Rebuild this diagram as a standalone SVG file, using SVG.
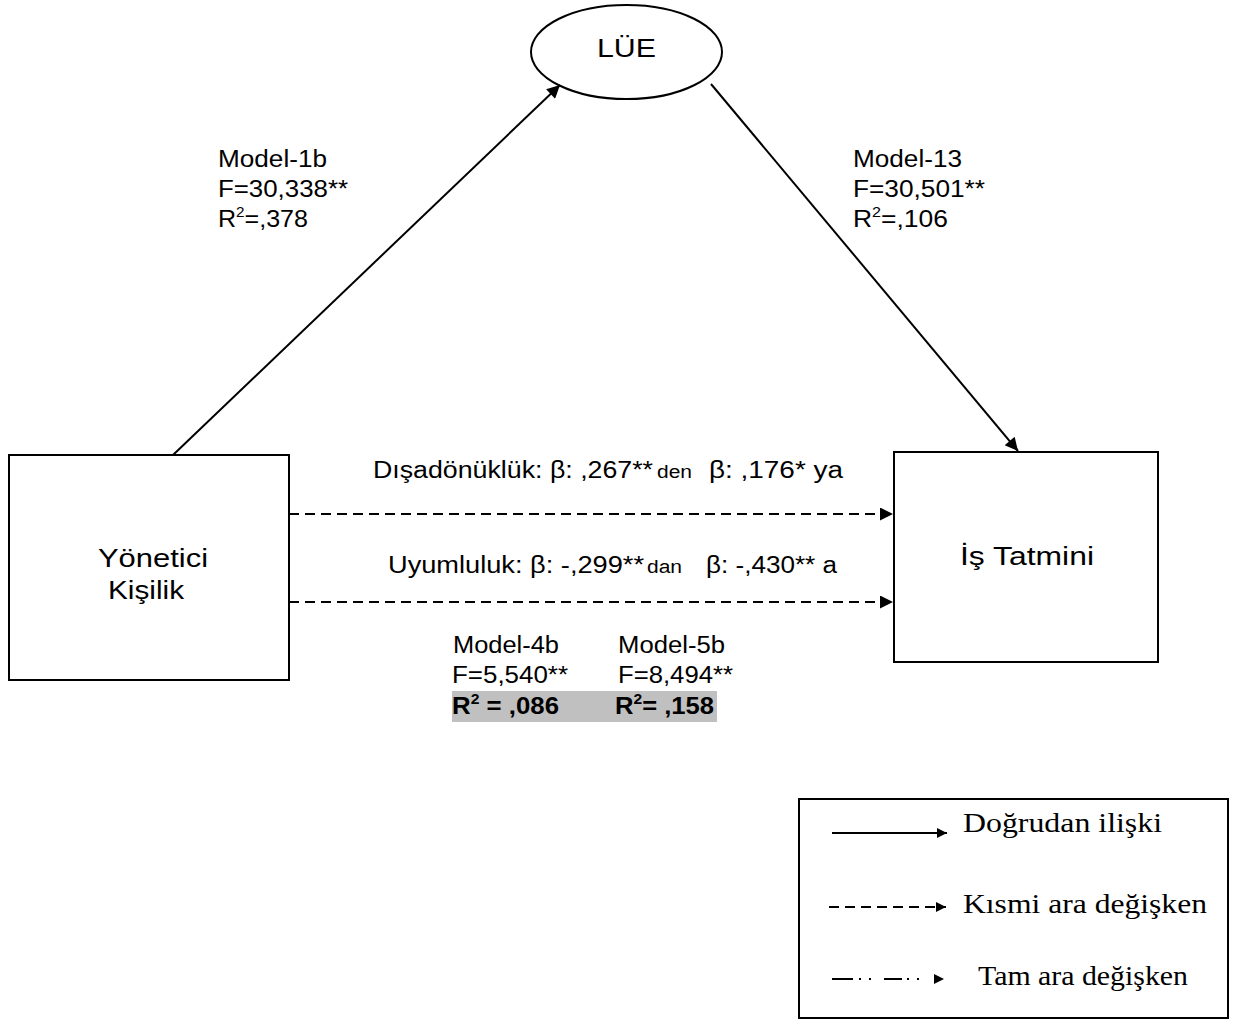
<svg xmlns="http://www.w3.org/2000/svg" width="1248" height="1021" viewBox="0 0 1248 1021">
  <style>
    .node { fill: #fff; stroke: #000; stroke-width: 2; }
    .lbl { font-family: "Liberation Sans", Arial, sans-serif; fill: #000; }
    .big { font-size: 26px; }
    .mid { font-size: 23px; }
    .small { font-size: 18px; }
    .sup { font-size: 14px; }
    .leg { font-family: "Liberation Serif", "Times New Roman", serif; font-size: 27.5px; fill: #000; }
    .solid { stroke: #000; stroke-width: 2; fill: none; }
    .dash { stroke: #000; stroke-width: 2; fill: none; stroke-dasharray: 10 6; }
    .dashdot { stroke: #000; stroke-width: 2; fill: none; }
  </style>
  <defs>
    <marker id="arrow" viewBox="0 0 10 10" refX="10" refY="5" markerWidth="16" markerHeight="13" markerUnits="userSpaceOnUse" orient="auto">
      <path d="M0,0 L10,5 L0,10 Z" fill="#000"/>
    </marker>
    <marker id="arrow-sm" viewBox="0 0 10 10" refX="10" refY="5" markerWidth="13" markerHeight="10" markerUnits="userSpaceOnUse" orient="auto">
      <path d="M0,0 L10,5 L0,10 Z" fill="#000"/>
    </marker>
  </defs>

  <rect width="1248" height="1021" fill="#fff"/>

  <!-- Nodes -->
  <g id="node-lue">
    <ellipse class="node" cx="626.5" cy="52" rx="95.5" ry="47"/>
    <text class="lbl big" x="597" y="57" textLength="59" lengthAdjust="spacingAndGlyphs">LÜE</text>
  </g>
  <g id="node-yonetici">
    <rect class="node" x="9" y="455" width="280" height="225"/>
    <text class="lbl big" x="98" y="567" textLength="110" lengthAdjust="spacingAndGlyphs">Yönetici</text>
    <text class="lbl big" x="108" y="599" textLength="76" lengthAdjust="spacingAndGlyphs">Kişilik</text>
  </g>
  <g id="node-is-tatmini">
    <rect class="node" x="894" y="452" width="264" height="210"/>
    <text class="lbl big" x="960" y="565" textLength="134" lengthAdjust="spacingAndGlyphs">İş Tatmini</text>
  </g>

  <!-- Connectors -->
  <g id="connectors">
    <line class="solid" x1="173" y1="455" x2="560" y2="85" marker-end="url(#arrow)"/>
    <line class="solid" x1="711" y1="84" x2="1018" y2="451" marker-end="url(#arrow)"/>
    <line class="dash" x1="289" y1="514" x2="893" y2="514" marker-end="url(#arrow)"/>
    <line class="dash" x1="289" y1="602" x2="893" y2="602" marker-end="url(#arrow)"/>
  </g>

  <!-- Path statistics -->
  <g id="label-model-1b" class="lbl mid">
    <text x="218" y="167" textLength="109" lengthAdjust="spacingAndGlyphs">Model-1b</text>
    <text x="218" y="197" textLength="130" lengthAdjust="spacingAndGlyphs">F=30,338**</text>
    <text x="218" y="227" textLength="90" lengthAdjust="spacingAndGlyphs">R<tspan class="sup" dy="-10">2</tspan><tspan dy="10">=,378</tspan></text>
  </g>
  <g id="label-model-13" class="lbl mid">
    <text x="853" y="167" textLength="109" lengthAdjust="spacingAndGlyphs">Model-13</text>
    <text x="853" y="197" textLength="132" lengthAdjust="spacingAndGlyphs">F=30,501**</text>
    <text x="853" y="227" textLength="95" lengthAdjust="spacingAndGlyphs">R<tspan class="sup" dy="-10">2</tspan><tspan dy="10">=,106</tspan></text>
  </g>
  <g id="label-beta" class="lbl mid">
    <text x="373" y="478" textLength="280" lengthAdjust="spacingAndGlyphs">Dışadönüklük: β: ,267**</text>
    <text class="small" x="657" y="478" textLength="35" lengthAdjust="spacingAndGlyphs">den</text>
    <text x="709" y="478" textLength="134" lengthAdjust="spacingAndGlyphs">β: ,176* ya</text>
    <text x="388" y="573" textLength="256" lengthAdjust="spacingAndGlyphs">Uyumluluk: β: -,299**</text>
    <text class="small" x="647" y="573" textLength="35" lengthAdjust="spacingAndGlyphs">dan</text>
    <text x="706" y="573" textLength="131" lengthAdjust="spacingAndGlyphs">β: -,430** a</text>
  </g>
  <g id="label-model-4b-5b" class="lbl mid">
    <rect x="452" y="691" width="265" height="31" fill="#c0c0c0"/>
    <text x="453" y="653" textLength="106" lengthAdjust="spacingAndGlyphs">Model-4b</text>
    <text x="618" y="653" textLength="107" lengthAdjust="spacingAndGlyphs">Model-5b</text>
    <text x="452" y="683" textLength="116" lengthAdjust="spacingAndGlyphs">F=5,540**</text>
    <text x="618" y="683" textLength="115" lengthAdjust="spacingAndGlyphs">F=8,494**</text>
    <text x="452" y="714" font-weight="bold" textLength="107" lengthAdjust="spacingAndGlyphs">R<tspan class="sup" dy="-10">2</tspan><tspan dy="10"> = ,086</tspan></text>
    <text x="615" y="714" font-weight="bold" textLength="99" lengthAdjust="spacingAndGlyphs">R<tspan class="sup" dy="-10">2</tspan><tspan dy="10">= ,158</tspan></text>
  </g>

  <!-- Legend -->
  <g id="legend">
    <rect x="799" y="799" width="429" height="219" fill="#fff" stroke="#000" stroke-width="2"/>
    <line class="solid" x1="832" y1="833" x2="947" y2="833" marker-end="url(#arrow-sm)"/>
    <text class="leg" x="963" y="832" textLength="199" lengthAdjust="spacingAndGlyphs">Doğrudan ilişki</text>
    <line class="dash" x1="829" y1="907" x2="946" y2="907" marker-end="url(#arrow-sm)"/>
    <text class="leg" x="963" y="913" textLength="244" lengthAdjust="spacingAndGlyphs">Kısmi ara değişken</text>
    <!-- long dash, two dots, long dash, two dots, arrow -->
    <path class="dashdot" d="M832,979 H853 M859,979 H861 M869,979 H871 M884,979 H902 M907,979 H909 M917,979 H919"/>
    <line class="solid" x1="920" y1="979" x2="944" y2="979" stroke-opacity="0" marker-end="url(#arrow-sm)"/>
    <text class="leg" x="978" y="985" textLength="210" lengthAdjust="spacingAndGlyphs">Tam ara değişken</text>
  </g>
</svg>
